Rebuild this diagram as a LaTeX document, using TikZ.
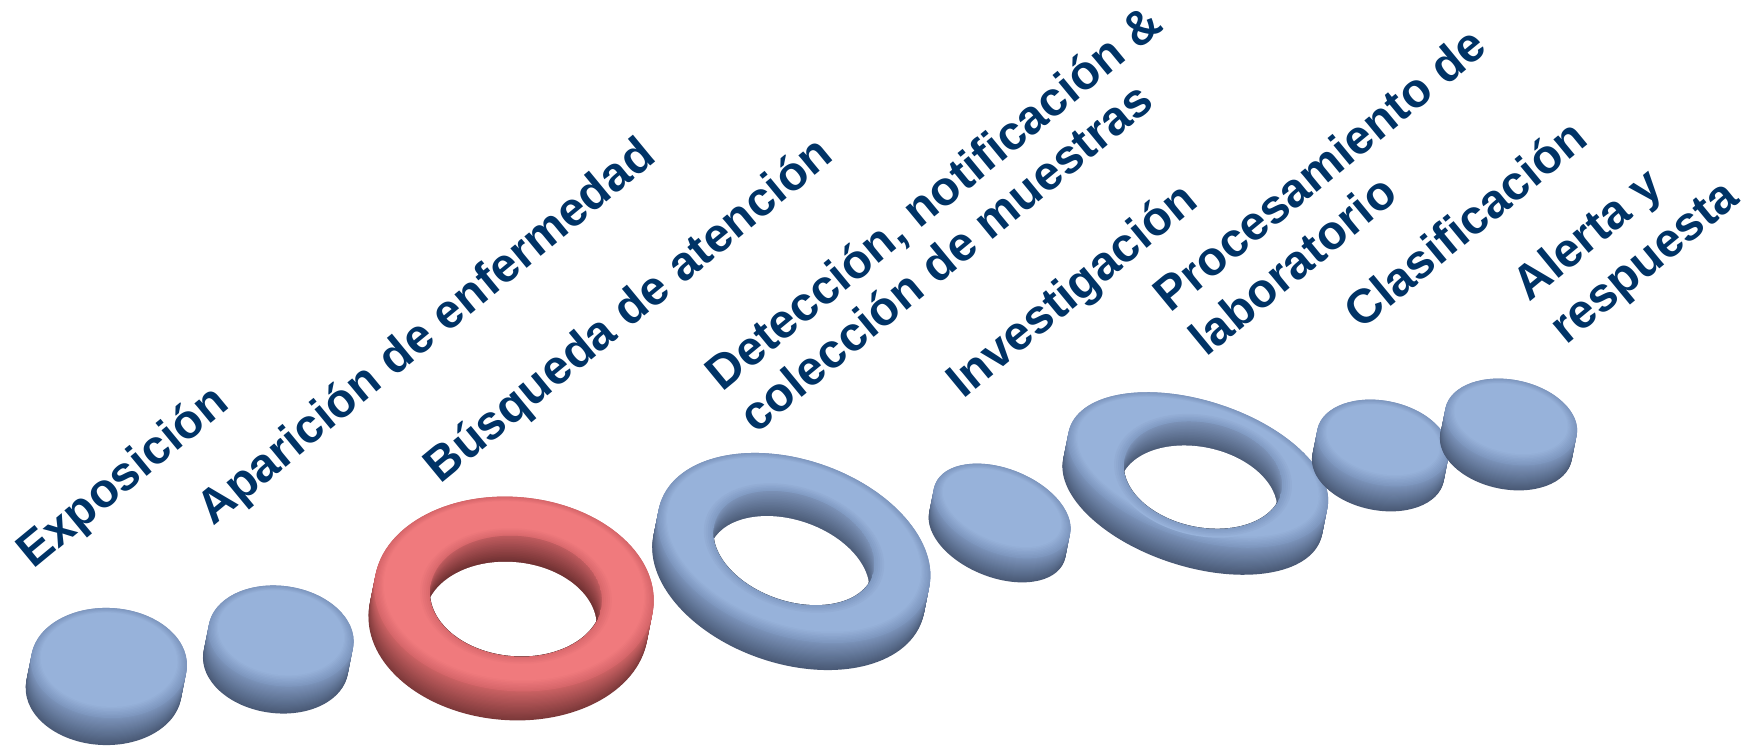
\documentclass[tikz,border=0pt]{standalone}
\usepackage{fontspec}
\setmainfont{Liberation Sans}
\definecolor{txt}{RGB}{0,51,102}
\definecolor{bltop}{HTML}{97B2DA}
\definecolor{blrim}{HTML}{7E97BF}
\definecolor{blside}{HTML}{7B93BA}
\definecolor{blsidedark}{HTML}{4A5A76}
\definecolor{blwall}{HTML}{7A90B5}
\definecolor{blwalldark}{HTML}{4A5A75}
\definecolor{rdtop}{HTML}{F07A7D}
\definecolor{rdrim}{HTML}{D6666A}
\definecolor{rdside}{HTML}{CC6264}
\definecolor{rdsidedark}{HTML}{7C393A}
\definecolor{rdwall}{HTML}{BE5B5E}
\definecolor{rdwalldark}{HTML}{6C2F30}

% body: side + top face.  #1 cx  #2 cy  #3 a  #4 b  #5 rot  #6 h  #7 colour prefix
\newcommand\objbody[7]{%
  \foreach \k in {0,...,24}{%
    \pgfmathsetmacro\dy{#6*(1-\k/24)}%
    \pgfmathsetmacro\mx{100*\k/24}%
    \fill[#7side!\mx!#7sidedark, shift={(#1-0.2*\dy,#2+\dy)}, rotate=#5] (0,0) ellipse [x radius=#3, y radius=#4];
  }%
  \foreach \j in {0,...,8}{%
    \pgfmathsetmacro\mx{100*\j/8}%
    \pgfmathsetmacro\rA{#3-\j*1.2}%
    \pgfmathsetmacro\rB{#4-\j*1.0}%
    \fill[#7top!\mx!#7rim, shift={(#1,#2-\j*0.4)}, rotate=#5] (0,0) ellipse [x radius=\rA, y radius=\rB];
  }%
}
% hole of a ring.  #1 cx  #2 cy  #3 a  #4 b  #5 rot  #6 depth  #7 colour prefix
\newcommand\ringhole[7]{%
  \foreach \j in {0,...,6}{%
    \pgfmathsetmacro\mx{100*\j/6}%
    \pgfmathsetmacro\rA{#3+12-\j*2}%
    \pgfmathsetmacro\rB{#4+9-\j*1.5}%
    \fill[#7rim!\mx!#7top, shift={(#1,#2)}, rotate=#5] (0,0) ellipse [x radius=\rA, y radius=\rB];
  }%
  \begin{scope}
    \clip[shift={(#1,#2)}, rotate=#5] (0,0) ellipse [x radius=#3, y radius=#4];
    \foreach \k in {0,...,16}{%
      \pgfmathsetmacro\dy{#6*\k/16}%
      \pgfmathsetmacro\mx{100*\k/16}%
      \fill[#7walldark!\mx!#7wall, shift={(#1-0.2*\dy,#2+\dy)}, rotate=#5] (0,0) ellipse [x radius=#3, y radius=#4];
    }%
    \fill[white, shift={(#1-0.2*#6,#2+#6)}, rotate=#5] (0,0) ellipse [x radius=#3, y radius=#4];
  \end{scope}
}

\begin{document}
\begin{tikzpicture}[x=0.5pt, y=-0.5pt,
  lbl/.style={text=txt, font=\bfseries\fontsize{24}{27}\selectfont, rotate=39.5,
              anchor=base west, inner sep=0pt}]
\fill[white] (0,0) rectangle (1760,748);
\useasboundingbox (0,0) rectangle (1760,748);

% shapes, left to right
\objbody{109}{663}{78}{55}{-3}{27}{bl}
\objbody{281}{636}{73}{50}{-8}{27}{bl}
\objbody{514}{594}{140}{97}{-5}{29}{rd}
\ringhole{516}{596}{86}{60}{-5}{26}{rd}
\objbody{794}{548}{141}{88}{-19}{27}{bl}
\ringhole{794}{548}{83}{53}{-19}{25}{bl}
\objbody{1002}{511}{72}{42}{-22}{24}{bl}
\objbody{1198}{470}{135}{69}{-18}{27}{bl}
\ringhole{1203}{475}{80}{52}{-12}{24}{bl}
\objbody{1383}{443}{67}{42}{-12}{25}{bl}
\objbody{1511}{422}{67}{42}{-12}{25}{bl}

% labels
\node[lbl] (t1) at (33,570) {Exposición};
\node[lbl] (t2) at (213,527) {Aparición de enfermedad};
\node[lbl] (t3) at (440,485) {Búsqueda de atención};
\node[lbl] (t4a) at (722,393) {Detección, notificación \&};
\node[lbl] (t4b) at (756,435) {colección de muestras};
\node[lbl] (t5) at (963,400) {Investigación};
\node[lbl] (t6a) at (1170,314) {Procesamiento de};
\node[lbl] (t6b) at (1206,358) {laboratorio};
\node[lbl] (t7) at (1361,331) {Clasificación};
\node[lbl] (t8a) at (1529,303) {Alerta y};
\node[lbl] (t8b) at (1566,346) {respuesta};
\end{tikzpicture}
\end{document}
